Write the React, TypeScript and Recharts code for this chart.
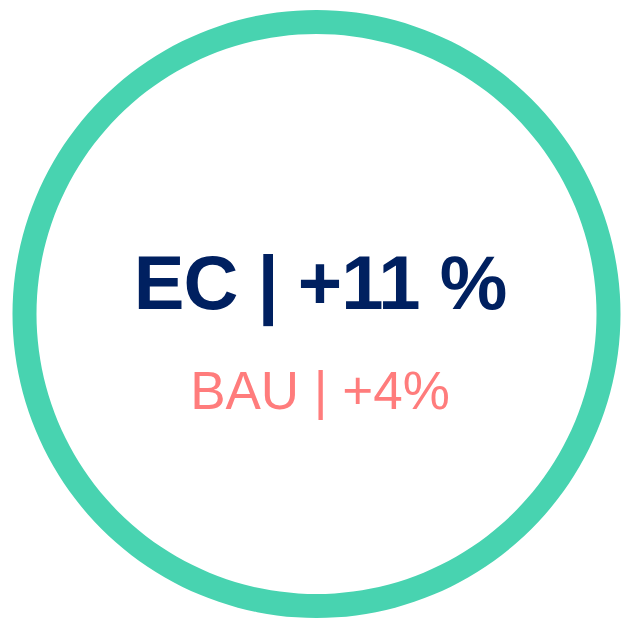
import { Label, Pie, PieChart } from 'recharts';

const ringNames = ['EC'];
const ringValues = [100];
const headline = 'EC | +11 %';
const subline = 'BAU | +4%';

const ringData = ringNames.map((name, i) => ({ name, value: ringValues[i] }));

const CenterText = () => (
  <g>
    <text
      x={320}
      y={309}
      textAnchor="middle"
      fontFamily="'Liberation Sans', Arial, sans-serif"
      fontWeight={700}
      fontSize={76}
      letterSpacing={-1}
      fill="#002060"
    >
      {headline}
    </text>
    <text
      x={320}
      y={409}
      textAnchor="middle"
      fontFamily="'Liberation Sans', Arial, sans-serif"
      fontSize={53}
      fill="#FF7C7C"
    >
      {subline}
    </text>
  </g>
);

export default function App() {
  return (
    <div style={{ position: 'absolute', left: 0, top: 0, width: 621, height: 619, background: '#fff' }}>
      <PieChart width={621} height={619} margin={{ top: 0, right: 0, bottom: 0, left: 0 }}>
        <Pie
          data={ringData}
          dataKey="value"
          nameKey="name"
          cx={316.5}
          cy={314}
          innerRadius={280}
          outerRadius={304}
          startAngle={90}
          endAngle={-270}
          stroke="none"
          fill="#48D3B0"
          isAnimationActive={false}
        >
          <Label position="center" content={<CenterText />} />
        </Pie>
      </PieChart>
    </div>
  );
}
